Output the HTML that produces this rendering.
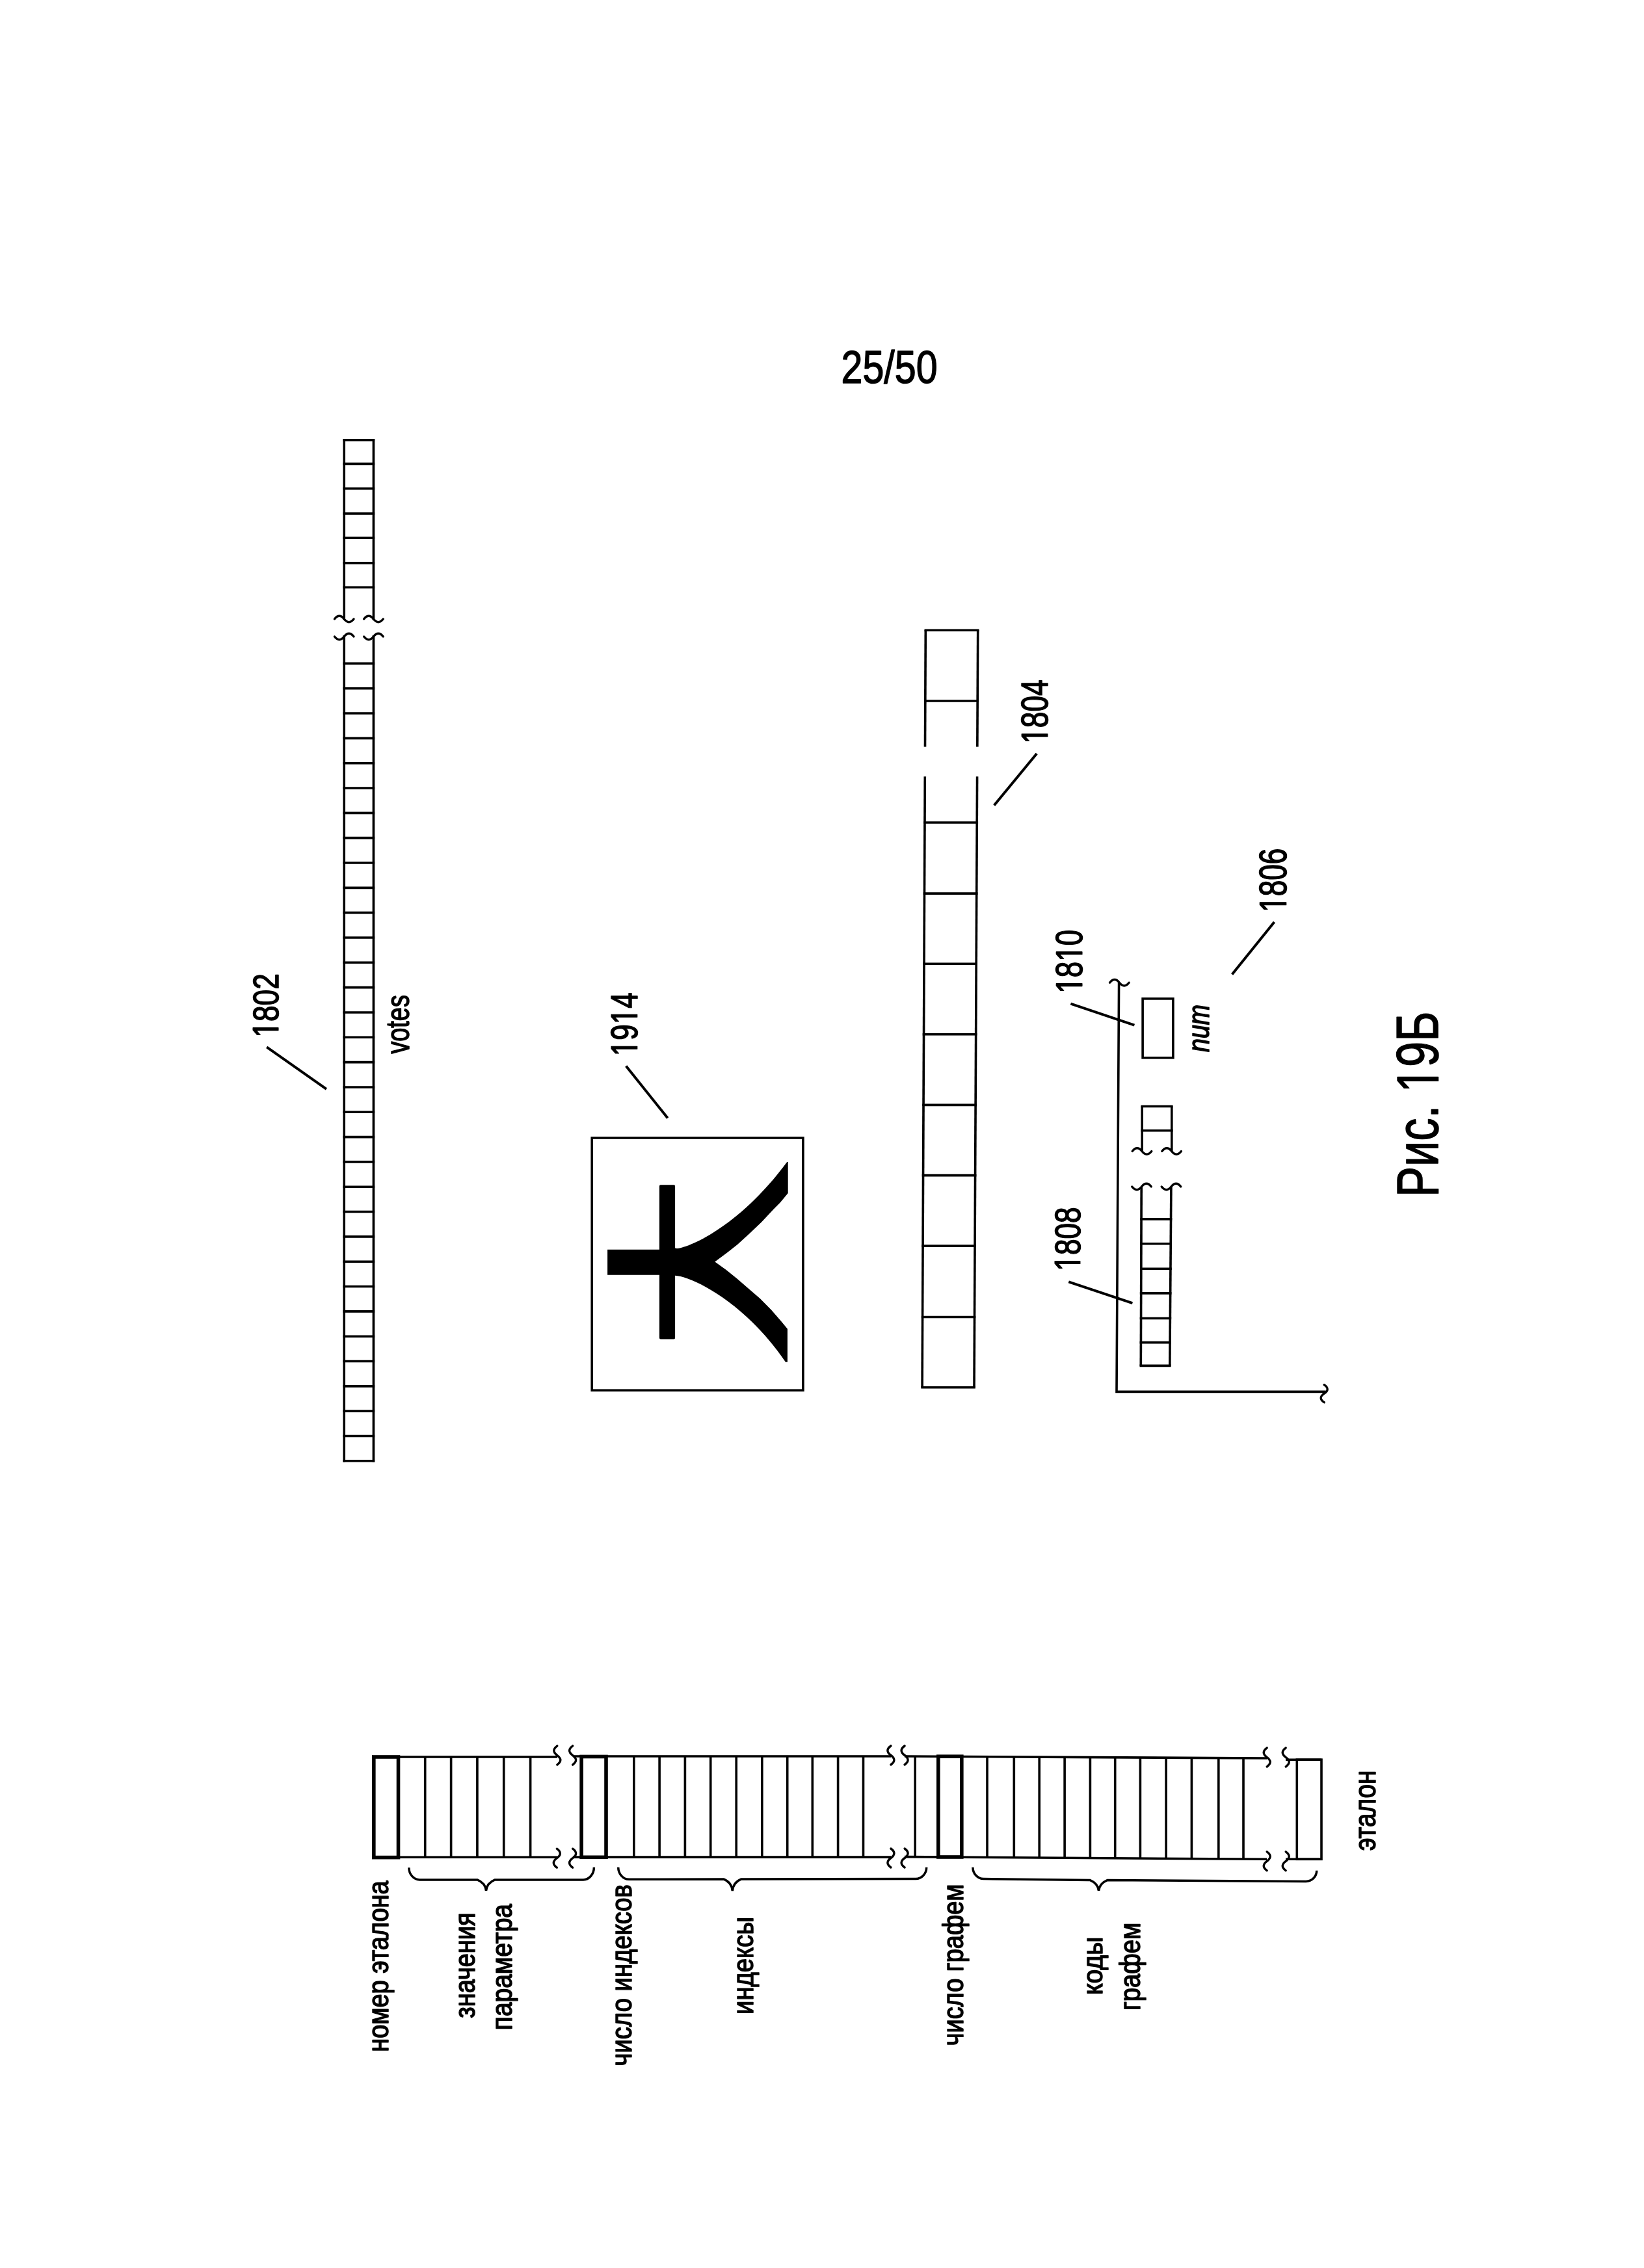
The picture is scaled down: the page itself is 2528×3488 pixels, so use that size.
<!DOCTYPE html>
<html><head><meta charset="utf-8"><title>Рис. 19Б</title>
<style>
html,body{margin:0;padding:0;background:#fff;}
body{width:2528px;height:3488px;overflow:hidden;}
svg{display:block;filter:grayscale(1);}
text{font-family:"Liberation Sans",sans-serif;}
.t text,.t path{fill:#000;stroke:#000;stroke-linejoin:round;}
</style></head><body>
<svg width="2528" height="3488" viewBox="0 0 2528 3488">
<rect x="0" y="0" width="2528" height="3488" fill="#fff"/>
<g stroke="#000" fill="#000">
<line x1="529.20" y1="676.80" x2="529.20" y2="952.00" stroke-width="3.6" stroke-linecap="square"/>
<line x1="574.40" y1="676.80" x2="574.40" y2="952.00" stroke-width="3.6" stroke-linecap="square"/>
<line x1="529.20" y1="676.80" x2="574.40" y2="676.80" stroke-width="3.6" stroke-linecap="square"/>
<line x1="529.20" y1="713.40" x2="574.40" y2="713.40" stroke-width="3.6" stroke-linecap="square"/>
<line x1="529.20" y1="751.30" x2="574.40" y2="751.30" stroke-width="3.6" stroke-linecap="square"/>
<line x1="529.20" y1="789.90" x2="574.40" y2="789.90" stroke-width="3.6" stroke-linecap="square"/>
<line x1="529.20" y1="827.30" x2="574.40" y2="827.30" stroke-width="3.6" stroke-linecap="square"/>
<line x1="529.20" y1="865.90" x2="574.40" y2="865.90" stroke-width="3.6" stroke-linecap="square"/>
<line x1="529.20" y1="903.30" x2="574.40" y2="903.30" stroke-width="3.6" stroke-linecap="square"/>
<path d="M514.40,952.00 Q521.80,942.50 529.20,952.00 T544.00,952.00" stroke-width="3.4" stroke-linecap="round" fill="none"/>
<path d="M559.60,952.00 Q567.00,942.50 574.40,952.00 T589.20,952.00" stroke-width="3.4" stroke-linecap="round" fill="none"/>
<path d="M514.40,979.00 Q521.80,988.50 529.20,979.00 T544.00,979.00" stroke-width="3.4" stroke-linecap="round" fill="none"/>
<path d="M559.60,979.00 Q567.00,988.50 574.40,979.00 T589.20,979.00" stroke-width="3.4" stroke-linecap="round" fill="none"/>
<line x1="529.20" y1="979.00" x2="529.20" y2="2246.80" stroke-width="3.6" stroke-linecap="square"/>
<line x1="574.40" y1="979.00" x2="574.40" y2="2246.80" stroke-width="3.6" stroke-linecap="square"/>
<line x1="529.20" y1="1020.40" x2="574.40" y2="1020.40" stroke-width="3.6" stroke-linecap="square"/>
<line x1="529.20" y1="1058.72" x2="574.40" y2="1058.72" stroke-width="3.6" stroke-linecap="square"/>
<line x1="529.20" y1="1097.05" x2="574.40" y2="1097.05" stroke-width="3.6" stroke-linecap="square"/>
<line x1="529.20" y1="1135.38" x2="574.40" y2="1135.38" stroke-width="3.6" stroke-linecap="square"/>
<line x1="529.20" y1="1173.70" x2="574.40" y2="1173.70" stroke-width="3.6" stroke-linecap="square"/>
<line x1="529.20" y1="1212.03" x2="574.40" y2="1212.03" stroke-width="3.6" stroke-linecap="square"/>
<line x1="529.20" y1="1250.35" x2="574.40" y2="1250.35" stroke-width="3.6" stroke-linecap="square"/>
<line x1="529.20" y1="1288.67" x2="574.40" y2="1288.67" stroke-width="3.6" stroke-linecap="square"/>
<line x1="529.20" y1="1327.00" x2="574.40" y2="1327.00" stroke-width="3.6" stroke-linecap="square"/>
<line x1="529.20" y1="1365.33" x2="574.40" y2="1365.33" stroke-width="3.6" stroke-linecap="square"/>
<line x1="529.20" y1="1403.65" x2="574.40" y2="1403.65" stroke-width="3.6" stroke-linecap="square"/>
<line x1="529.20" y1="1441.97" x2="574.40" y2="1441.97" stroke-width="3.6" stroke-linecap="square"/>
<line x1="529.20" y1="1480.30" x2="574.40" y2="1480.30" stroke-width="3.6" stroke-linecap="square"/>
<line x1="529.20" y1="1518.62" x2="574.40" y2="1518.62" stroke-width="3.6" stroke-linecap="square"/>
<line x1="529.20" y1="1556.95" x2="574.40" y2="1556.95" stroke-width="3.6" stroke-linecap="square"/>
<line x1="529.20" y1="1595.28" x2="574.40" y2="1595.28" stroke-width="3.6" stroke-linecap="square"/>
<line x1="529.20" y1="1633.60" x2="574.40" y2="1633.60" stroke-width="3.6" stroke-linecap="square"/>
<line x1="529.20" y1="1671.93" x2="574.40" y2="1671.93" stroke-width="3.6" stroke-linecap="square"/>
<line x1="529.20" y1="1710.25" x2="574.40" y2="1710.25" stroke-width="3.6" stroke-linecap="square"/>
<line x1="529.20" y1="1748.58" x2="574.40" y2="1748.58" stroke-width="3.6" stroke-linecap="square"/>
<line x1="529.20" y1="1786.90" x2="574.40" y2="1786.90" stroke-width="3.6" stroke-linecap="square"/>
<line x1="529.20" y1="1825.22" x2="574.40" y2="1825.22" stroke-width="3.6" stroke-linecap="square"/>
<line x1="529.20" y1="1863.55" x2="574.40" y2="1863.55" stroke-width="3.6" stroke-linecap="square"/>
<line x1="529.20" y1="1901.88" x2="574.40" y2="1901.88" stroke-width="3.6" stroke-linecap="square"/>
<line x1="529.20" y1="1940.20" x2="574.40" y2="1940.20" stroke-width="3.6" stroke-linecap="square"/>
<line x1="529.20" y1="1978.53" x2="574.40" y2="1978.53" stroke-width="3.6" stroke-linecap="square"/>
<line x1="529.20" y1="2016.85" x2="574.40" y2="2016.85" stroke-width="3.6" stroke-linecap="square"/>
<line x1="529.20" y1="2055.18" x2="574.40" y2="2055.18" stroke-width="3.6" stroke-linecap="square"/>
<line x1="529.20" y1="2093.50" x2="574.40" y2="2093.50" stroke-width="3.6" stroke-linecap="square"/>
<line x1="529.20" y1="2131.83" x2="574.40" y2="2131.83" stroke-width="3.6" stroke-linecap="square"/>
<line x1="529.20" y1="2170.15" x2="574.40" y2="2170.15" stroke-width="3.6" stroke-linecap="square"/>
<line x1="529.20" y1="2208.47" x2="574.40" y2="2208.47" stroke-width="3.6" stroke-linecap="square"/>
<line x1="529.20" y1="2246.80" x2="574.40" y2="2246.80" stroke-width="3.6" stroke-linecap="square"/>
<line x1="410.20" y1="1610.30" x2="501.90" y2="1674.80" stroke-width="4.0" stroke-linecap="butt"/>
<rect x="910.2" y="1750" width="324.70" height="388.20" stroke-width="3.6" fill="none"/>
<line x1="962.70" y1="1639.50" x2="1026.70" y2="1719.50" stroke-width="4.0" stroke-linecap="butt"/>
<path stroke="none" d="M934.1,1921.8 L1013.9,1921.8 L1013.9,1824.2 Q1013.9,1822.2 1015.9,1822.2 L1036.1,1822.2 Q1038.1,1822.2 1038.1,1824.2 L1038.1,1919.3 C1042.7,1924.6 1128.3,1897.7 1210.3,1786.9 L1211.7,1786.9 L1211.7,1834.9 L1199.9,1849.3 L1189.5,1859.7 L1171,1879.4 L1153.7,1896.1 L1134,1914.1 L1117.8,1926.8 L1099.3,1940.5 L1116.7,1953.1 L1134,1967 L1151.3,1982 L1168.7,1997 L1186,2014.4 L1201,2031.7 L1210.9,2043.8 L1210.9,2094.7 L1208,2094.7 C1145.6,2002.7 1063.6,1962.9 1038.1,1961.8 L1038.1,2057.4 Q1038.1,2059.4 1036.1,2059.4 L1015.9,2059.4 Q1013.9,2059.4 1013.9,2057.4 L1013.9,1960.8 L934.1,1960.8 Z"/>
<line x1="1423.30" y1="969.30" x2="1422.50" y2="1148.60" stroke-width="3.6" stroke-linecap="butt"/>
<line x1="1503.70" y1="969.30" x2="1502.82" y2="1148.60" stroke-width="3.6" stroke-linecap="butt"/>
<line x1="1422.30" y1="1194.20" x2="1418.10" y2="2133.80" stroke-width="3.6" stroke-linecap="butt"/>
<line x1="1502.60" y1="1194.20" x2="1498.00" y2="2133.80" stroke-width="3.6" stroke-linecap="butt"/>
<line x1="1421.50" y1="969.30" x2="1505.50" y2="969.30" stroke-width="3.6" stroke-linecap="butt"/>
<line x1="1421.01" y1="1078.00" x2="1504.97" y2="1078.00" stroke-width="3.6" stroke-linecap="butt"/>
<line x1="1420.18" y1="1265.00" x2="1504.05" y2="1265.00" stroke-width="3.6" stroke-linecap="butt"/>
<line x1="1419.69" y1="1374.10" x2="1503.52" y2="1374.10" stroke-width="3.6" stroke-linecap="butt"/>
<line x1="1419.21" y1="1482.30" x2="1502.99" y2="1482.30" stroke-width="3.6" stroke-linecap="butt"/>
<line x1="1418.72" y1="1590.80" x2="1502.46" y2="1590.80" stroke-width="3.6" stroke-linecap="butt"/>
<line x1="1418.24" y1="1699.40" x2="1501.93" y2="1699.40" stroke-width="3.6" stroke-linecap="butt"/>
<line x1="1417.76" y1="1807.60" x2="1501.40" y2="1807.60" stroke-width="3.6" stroke-linecap="butt"/>
<line x1="1417.27" y1="1916.10" x2="1500.87" y2="1916.10" stroke-width="3.6" stroke-linecap="butt"/>
<line x1="1416.78" y1="2025.50" x2="1500.33" y2="2025.50" stroke-width="3.6" stroke-linecap="butt"/>
<line x1="1416.30" y1="2133.80" x2="1499.80" y2="2133.80" stroke-width="3.6" stroke-linecap="butt"/>
<line x1="1594.20" y1="1159.00" x2="1528.70" y2="1238.50" stroke-width="4.0" stroke-linecap="butt"/>
<line x1="1959.50" y1="1418.00" x2="1894.60" y2="1498.60" stroke-width="4.0" stroke-linecap="butt"/>
<path d="M1720.6,1511.2 L1717,2140.4 L2038.6,2140.4" stroke-width="3.6" stroke-linecap="butt" fill="none" stroke-linejoin="miter"/>
<path d="M1706.50,1511.20 Q1713.90,1501.70 1721.30,1511.20 T1736.10,1511.20" stroke-width="3.4" stroke-linecap="round" fill="none"/>
<path d="M2036.20,2129.70 Q2046.20,2136.45 2036.20,2143.20 T2036.20,2156.70" stroke-width="3.4" stroke-linecap="round" fill="none"/>
<rect x="1757.1" y="1535.9" width="46.8" height="90.9" stroke-width="3.6" fill="none"/>
<line x1="1646.40" y1="1543.70" x2="1744.40" y2="1576.70" stroke-width="4.0" stroke-linecap="butt"/>
<line x1="1643.30" y1="1971.40" x2="1741.40" y2="2004.20" stroke-width="4.0" stroke-linecap="butt"/>
<line x1="1756.20" y1="1701.50" x2="1756.20" y2="1770.50" stroke-width="3.6" stroke-linecap="butt"/>
<line x1="1801.80" y1="1701.50" x2="1801.80" y2="1770.50" stroke-width="3.6" stroke-linecap="butt"/>
<line x1="1756.20" y1="1701.50" x2="1801.80" y2="1701.50" stroke-width="3.6" stroke-linecap="square"/>
<line x1="1756.20" y1="1738.80" x2="1801.80" y2="1738.80" stroke-width="3.6" stroke-linecap="square"/>
<path d="M1741.20,1770.50 Q1748.60,1761.00 1756.00,1770.50 T1770.80,1770.50" stroke-width="3.4" stroke-linecap="round" fill="none"/>
<path d="M1786.80,1770.50 Q1794.20,1761.00 1801.60,1770.50 T1816.40,1770.50" stroke-width="3.4" stroke-linecap="round" fill="none"/>
<path d="M1740.70,1825.00 Q1748.10,1834.50 1755.50,1825.00 T1770.30,1825.00" stroke-width="3.4" stroke-linecap="round" fill="none"/>
<path d="M1786.20,1825.00 Q1793.60,1834.50 1801.00,1825.00 T1815.80,1825.00" stroke-width="3.4" stroke-linecap="round" fill="none"/>
<line x1="1755.20" y1="1825.00" x2="1754.30" y2="2100.40" stroke-width="3.6" stroke-linecap="butt"/>
<line x1="1800.90" y1="1825.00" x2="1798.80" y2="2100.40" stroke-width="3.6" stroke-linecap="butt"/>
<line x1="1753.24" y1="1874.90" x2="1802.32" y2="1874.90" stroke-width="3.6" stroke-linecap="butt"/>
<line x1="1753.11" y1="1912.80" x2="1802.03" y2="1912.80" stroke-width="3.6" stroke-linecap="butt"/>
<line x1="1752.99" y1="1951.30" x2="1801.74" y2="1951.30" stroke-width="3.6" stroke-linecap="butt"/>
<line x1="1752.86" y1="1988.90" x2="1801.45" y2="1988.90" stroke-width="3.6" stroke-linecap="butt"/>
<line x1="1752.74" y1="2027.50" x2="1801.16" y2="2027.50" stroke-width="3.6" stroke-linecap="butt"/>
<line x1="1752.62" y1="2064.60" x2="1800.87" y2="2064.60" stroke-width="3.6" stroke-linecap="butt"/>
<line x1="1752.50" y1="2100.40" x2="1800.60" y2="2100.40" stroke-width="3.6" stroke-linecap="butt"/>
<line x1="572.00" y1="2702.00" x2="857.00" y2="2702.00" stroke-width="3.6" stroke-linecap="butt"/>
<line x1="572.00" y1="2856.30" x2="857.00" y2="2856.30" stroke-width="3.6" stroke-linecap="butt"/>
<rect x="574.8" y="2702" width="37.7" height="154.6" stroke-width="5.6" fill="none"/>
<line x1="653.70" y1="2702.00" x2="653.70" y2="2856.30" stroke-width="3.6" stroke-linecap="butt"/>
<line x1="693.60" y1="2702.00" x2="693.60" y2="2856.30" stroke-width="3.6" stroke-linecap="butt"/>
<line x1="733.90" y1="2702.00" x2="733.90" y2="2856.30" stroke-width="3.6" stroke-linecap="butt"/>
<line x1="774.70" y1="2702.00" x2="774.70" y2="2856.30" stroke-width="3.6" stroke-linecap="butt"/>
<line x1="815.60" y1="2702.00" x2="815.60" y2="2856.30" stroke-width="3.6" stroke-linecap="butt"/>
<path d="M856.80,2685.10 Q846.80,2692.35 856.80,2699.60 T856.80,2714.10" stroke-width="3.4" stroke-linecap="round" fill="none"/>
<path d="M880.60,2685.10 Q870.60,2692.35 880.60,2699.60 T880.60,2714.10" stroke-width="3.4" stroke-linecap="round" fill="none"/>
<path d="M856.30,2843.20 Q866.30,2850.45 856.30,2857.70 T856.30,2872.20" stroke-width="3.4" stroke-linecap="round" fill="none"/>
<path d="M880.60,2843.20 Q890.60,2850.45 880.60,2857.70 T880.60,2872.20" stroke-width="3.4" stroke-linecap="round" fill="none"/>
<line x1="881.00" y1="2701.00" x2="1370.00" y2="2701.00" stroke-width="3.6" stroke-linecap="butt"/>
<line x1="881.00" y1="2856.10" x2="1370.00" y2="2856.10" stroke-width="3.6" stroke-linecap="butt"/>
<rect x="894.1" y="2701.5" width="37.9" height="154.8" stroke-width="5.6" fill="none"/>
<line x1="974.80" y1="2701.00" x2="974.80" y2="2856.10" stroke-width="3.6" stroke-linecap="butt"/>
<line x1="1014.10" y1="2701.00" x2="1014.10" y2="2856.10" stroke-width="3.6" stroke-linecap="butt"/>
<line x1="1053.40" y1="2701.00" x2="1053.40" y2="2856.10" stroke-width="3.6" stroke-linecap="butt"/>
<line x1="1092.70" y1="2701.00" x2="1092.70" y2="2856.10" stroke-width="3.6" stroke-linecap="butt"/>
<line x1="1132.20" y1="2701.00" x2="1132.20" y2="2856.10" stroke-width="3.6" stroke-linecap="butt"/>
<line x1="1171.80" y1="2701.00" x2="1171.80" y2="2856.10" stroke-width="3.6" stroke-linecap="butt"/>
<line x1="1210.70" y1="2701.00" x2="1210.70" y2="2856.10" stroke-width="3.6" stroke-linecap="butt"/>
<line x1="1249.30" y1="2701.00" x2="1249.30" y2="2856.10" stroke-width="3.6" stroke-linecap="butt"/>
<line x1="1288.60" y1="2701.00" x2="1288.60" y2="2856.10" stroke-width="3.6" stroke-linecap="butt"/>
<line x1="1327.50" y1="2701.00" x2="1327.50" y2="2856.10" stroke-width="3.6" stroke-linecap="butt"/>
<path d="M1369.90,2685.00 Q1359.90,2692.25 1369.90,2699.50 T1369.90,2714.00" stroke-width="3.4" stroke-linecap="round" fill="none"/>
<path d="M1391.10,2685.00 Q1381.10,2692.25 1391.10,2699.50 T1391.10,2714.00" stroke-width="3.4" stroke-linecap="round" fill="none"/>
<path d="M1369.90,2843.00 Q1379.90,2850.25 1369.90,2857.50 T1369.90,2872.00" stroke-width="3.4" stroke-linecap="round" fill="none"/>
<path d="M1391.10,2843.00 Q1401.10,2850.25 1391.10,2857.50 T1391.10,2872.00" stroke-width="3.4" stroke-linecap="round" fill="none"/>
<line x1="1391" y1="2700.95" x2="1948" y2="2704.01" stroke-width="3.6"/>
<line x1="1391" y1="2855.64" x2="1948" y2="2859.31" stroke-width="3.6"/>
<line x1="1407.20" y1="2701.04" x2="1407.20" y2="2855.75" stroke-width="3.6" stroke-linecap="butt"/>
<line x1="1518.00" y1="2701.65" x2="1518.00" y2="2856.48" stroke-width="3.6" stroke-linecap="butt"/>
<line x1="1559.30" y1="2701.87" x2="1559.30" y2="2856.75" stroke-width="3.6" stroke-linecap="butt"/>
<line x1="1598.20" y1="2702.09" x2="1598.20" y2="2857.00" stroke-width="3.6" stroke-linecap="butt"/>
<line x1="1637.10" y1="2702.30" x2="1637.10" y2="2857.26" stroke-width="3.6" stroke-linecap="butt"/>
<line x1="1676.40" y1="2702.52" x2="1676.40" y2="2857.52" stroke-width="3.6" stroke-linecap="butt"/>
<line x1="1714.70" y1="2702.73" x2="1714.70" y2="2857.77" stroke-width="3.6" stroke-linecap="butt"/>
<line x1="1753.40" y1="2702.94" x2="1753.40" y2="2858.03" stroke-width="3.6" stroke-linecap="butt"/>
<line x1="1793.10" y1="2703.16" x2="1793.10" y2="2858.29" stroke-width="3.6" stroke-linecap="butt"/>
<line x1="1832.40" y1="2703.37" x2="1832.40" y2="2858.55" stroke-width="3.6" stroke-linecap="butt"/>
<line x1="1873.80" y1="2703.60" x2="1873.80" y2="2858.82" stroke-width="3.6" stroke-linecap="butt"/>
<line x1="1912.00" y1="2703.81" x2="1912.00" y2="2859.07" stroke-width="3.6" stroke-linecap="butt"/>
<rect x="1442.8" y="2701.23" width="36" height="154.75" stroke-width="5.6" fill="none"/>
<path d="M1948.20,2688.10 Q1938.20,2695.35 1948.20,2702.60 T1948.20,2717.10" stroke-width="3.4" stroke-linecap="round" fill="none"/>
<path d="M1977.20,2688.10 Q1967.20,2695.35 1977.20,2702.60 T1977.20,2717.10" stroke-width="3.4" stroke-linecap="round" fill="none"/>
<path d="M1948.20,2847.80 Q1958.20,2855.05 1948.20,2862.30 T1948.20,2876.80" stroke-width="3.4" stroke-linecap="round" fill="none"/>
<path d="M1977.20,2847.80 Q1987.20,2855.05 1977.20,2862.30 T1977.20,2876.80" stroke-width="3.4" stroke-linecap="round" fill="none"/>
<line x1="1977.00" y1="2706.20" x2="2032.00" y2="2706.20" stroke-width="3.6" stroke-linecap="butt"/>
<line x1="1977.00" y1="2859.30" x2="2032.00" y2="2859.30" stroke-width="3.6" stroke-linecap="butt"/>
<rect x="1994.3" y="2706.2" width="37.7" height="153.1" stroke-width="3.6" fill="none"/>
<path d="M628.8,2872.2 C628.8,2882.49 636.22,2890.9 645.30,2890.9 L733.90,2890.90 Q746.30,2896.00 747.50,2907.7 Q748.70,2896.00 761.10,2890.90 L896.90,2890.9 C905.98,2890.9 913.4,2882.26 913.4,2871.7" stroke-width="3.5" stroke-linecap="butt" fill="none"/>
<path d="M950.7,2871.7 C950.7,2881.93 958.12,2890.3 967.20,2890.3 L1112.70,2889.90 Q1125.10,2895.00 1126.30,2908 Q1127.50,2895.00 1139.90,2889.90 L1408.20,2889.5 C1417.28,2889.5 1424.7,2881.49 1424.7,2871.7" stroke-width="3.5" stroke-linecap="butt" fill="none"/>
<path d="M1495.9,2871.7 C1495.9,2881.49 1503.33,2889.5 1512.40,2889.5 L1675.90,2891.45 Q1688.30,2896.55 1689.50,2907.8 Q1690.70,2896.55 1703.10,2891.45 L2008.20,2893.4 C2017.28,2893.4 2024.7,2885.93 2024.7,2876.8" stroke-width="3.5" stroke-linecap="butt" fill="none"/>
</g>
<g class="t">
<text transform="translate(1293.57,588.65) scale(0.8406,1)" font-size="70.34" stroke-width="1.5">25/50</text>
<g transform="translate(427.79,1595.77) rotate(-90) scale(0.7913,1)" stroke-width="1.5"><path transform="translate(0.00,0) scale(0.02738,-0.02738)" stroke-width="54.79" stroke-linejoin="round" d="M515,0 V1237 L197,1010 V1180 L530,1409 H696 V0 Z"/><text x="31.19" font-size="56.07">802</text></g>
<g transform="translate(979.58,1624.26) rotate(-90) scale(0.7702,1)" stroke-width="1.5"><path transform="translate(0.00,0) scale(0.02793,-0.02793)" stroke-width="53.70" stroke-linejoin="round" d="M515,0 V1237 L197,1010 V1180 L530,1409 H696 V0 Z"/><text x="31.81" font-size="57.20">9</text><path transform="translate(63.63,0) scale(0.02793,-0.02793)" stroke-width="53.70" stroke-linejoin="round" d="M515,0 V1237 L197,1010 V1180 L530,1409 H696 V0 Z"/><text x="95.44" font-size="57.20">4</text></g>
<g transform="translate(1610.68,1143.78) rotate(-90) scale(0.7744,1)" stroke-width="1.5"><path transform="translate(0.00,0) scale(0.02793,-0.02793)" stroke-width="53.70" stroke-linejoin="round" d="M515,0 V1237 L197,1010 V1180 L530,1409 H696 V0 Z"/><text x="31.81" font-size="57.20">804</text></g>
<g transform="translate(1977.57,1402.78) rotate(-90) scale(0.7565,1)" stroke-width="1.5"><path transform="translate(0.00,0) scale(0.02848,-0.02848)" stroke-width="52.66" stroke-linejoin="round" d="M515,0 V1237 L197,1010 V1180 L530,1409 H696 V0 Z"/><text x="32.44" font-size="58.33">806</text></g>
<g transform="translate(1663.78,1527.65) rotate(-90) scale(0.7690,1)" stroke-width="1.5"><path transform="translate(0.00,0) scale(0.02793,-0.02793)" stroke-width="53.70" stroke-linejoin="round" d="M515,0 V1237 L197,1010 V1180 L530,1409 H696 V0 Z"/><text x="31.81" font-size="57.20">8</text><path transform="translate(63.63,0) scale(0.02793,-0.02793)" stroke-width="53.70" stroke-linejoin="round" d="M515,0 V1237 L197,1010 V1180 L530,1409 H696 V0 Z"/><text x="95.44" font-size="57.20">0</text></g>
<g transform="translate(1660.69,1954.55) rotate(-90) scale(0.7885,1)" stroke-width="1.5"><path transform="translate(0.00,0) scale(0.02731,-0.02731)" stroke-width="54.92" stroke-linejoin="round" d="M515,0 V1237 L197,1010 V1180 L530,1409 H696 V0 Z"/><text x="31.11" font-size="55.93">808</text></g>
<g transform="translate(628.85,1620.58) rotate(-90) scale(0.7585,1)" stroke-width="1.5"><text font-size="49.85">votes</text></g>
<g transform="translate(1858.90,1617.88) rotate(-90) scale(0.8260,1)" stroke-width="1.5"><text font-size="45.44" font-style="italic">num</text></g>
<g transform="translate(2211.44,1841.10) rotate(-90) scale(0.7776,1)" stroke-width="1.5"><text x="0.00" font-size="90.68">Рис. </text><path transform="translate(206.86,0) scale(0.04428,-0.04428)" stroke-width="33.88" stroke-linejoin="round" d="M515,0 V1237 L197,1010 V1180 L530,1409 H696 V0 Z"/><text x="257.29" font-size="90.68">9Б</text></g>
<g transform="translate(597.01,3155.70) rotate(-90) scale(0.8718,1)" stroke-width="1.5"><text font-size="43.55">номер эталона</text></g>
<g transform="translate(729.91,3103.66) rotate(-90) scale(0.8712,1)" stroke-width="1.5"><text font-size="43.55">значения</text></g>
<g transform="translate(787.31,3122.17) rotate(-90) scale(0.8752,1)" stroke-width="1.5"><text font-size="44.44">параметра</text></g>
<g transform="translate(970.61,3177.44) rotate(-90) scale(0.8783,1)" stroke-width="1.5"><text font-size="43.55">число индексов</text></g>
<g transform="translate(1158.41,3097.92) rotate(-90) scale(0.8782,1)" stroke-width="1.5"><text font-size="43.55">индексы</text></g>
<g transform="translate(1481.21,3146.33) rotate(-90) scale(0.8681,1)" stroke-width="1.5"><text font-size="43.73">число графем</text></g>
<g transform="translate(1694.73,3068.06) rotate(-90) scale(0.9284,1)" stroke-width="1.5"><text font-size="42.11">коды</text></g>
<g transform="translate(1752.61,3092.12) rotate(-90) scale(0.8732,1)" stroke-width="1.5"><text font-size="43.73">графем</text></g>
<g transform="translate(2115.18,2846.26) rotate(-90) scale(0.8301,1)" stroke-width="1.5"><text font-size="46.59">эталон</text></g>
</g>
</svg>
</body></html>
